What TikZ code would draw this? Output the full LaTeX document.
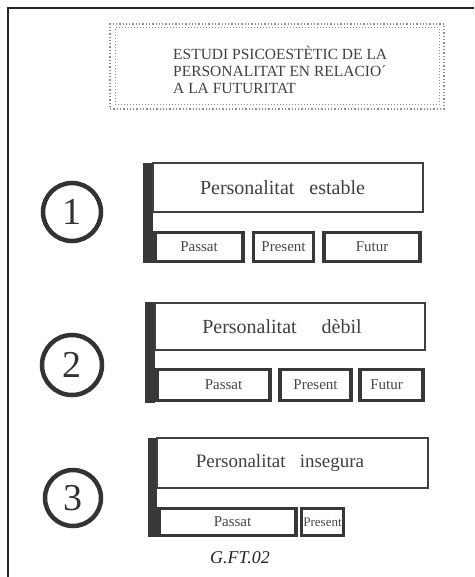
\documentclass[tikz,border=0pt]{standalone}
\usepackage{fontspec}
\setmainfont{Liberation Serif}
\begin{document}
\begin{tikzpicture}[x=1pt,y=-1pt,
  frame/.style={line width=2pt, draw=black!85},
  titlebox/.style={rectangle, draw=black!45, inner sep=0pt, dotted, line width=1.3pt},
  bigbox/.style={rectangle, draw=black!75, line width=1.6pt, inner sep=0pt, font=\fontsize{20}{22}\selectfont, text=black!75},
  smallbox/.style={rectangle, draw=black!78, line width=3.6pt, inner sep=0pt, font=\fontsize{15}{17}\selectfont, text=black!72},
  bar/.style={rectangle, fill=black!78, draw=none, inner sep=0pt},
  numcirc/.style={circle, draw=black!80, line width=4.5pt, inner sep=0pt, font=\fontsize{38}{40}\selectfont, text=black!80}]
\useasboundingbox (0,0) rectangle (474,577);
\fill[white] (0,0) rectangle (474,577);
% outer frame
\coordinate (fTL) at (8,8);
\coordinate (fTR) at (474,8);
\coordinate (fBL) at (8,577);
\draw[frame] (fBL) -- (fTL) -- (fTR);
% title box
\node[titlebox, minimum width=334pt, minimum height=85pt] (t0) at (277,66.5) {};
\node[titlebox, line width=1pt, minimum width=324pt, minimum height=77pt] (t1) at (277,66.5) {};
\node[anchor=west, align=left, inner sep=0pt, font=\fontsize{15.5}{17}\selectfont, text=black!75] (tt) at (173,70)
  {ESTUDI PSICOESTÈTIC DE LA\\PERSONALITAT EN RELACIO´\\A LA FUTURITAT};
% panel 1
\node[numcirc, minimum size=58pt] (c1) at (72,212) {1};
\node[bar, minimum width=10pt, minimum height=100pt] (b1) at (148,213) {};
\node[bigbox, minimum width=270pt, minimum height=49pt] (p1) at (288,187.5) {Personalitat\hspace{0.5em} estable\hspace*{11pt}};
\node[smallbox, minimum width=88pt, minimum height=29pt] (p1a) at (199,247) {Passat};
\node[smallbox, minimum width=60pt, minimum height=29pt] (p1b) at (283.5,247) {Present};
\node[smallbox, minimum width=96pt, minimum height=29pt] (p1c) at (372,247) {Futur};
% panel 2
\node[numcirc, minimum size=60pt] (c2) at (72,365) {2};
\node[bar, minimum width=10pt, minimum height=101pt] (b2) at (150,352.5) {};
\node[bigbox, minimum width=270pt, minimum height=47pt] (p2) at (290,326.5) {Personalitat\hspace{1em} dèbil\hspace*{16pt}};
\node[smallbox, minimum width=113pt, minimum height=31pt] (p2a) at (213.5,385) {\hspace*{20pt}Passat};
\node[smallbox, minimum width=71pt, minimum height=31pt] (p2b) at (315.5,385) {Present};
\node[smallbox, minimum width=63pt, minimum height=31pt] (p2c) at (391.5,385) {Futur\hspace*{10pt}};
% panel 3
\node[numcirc, minimum size=56pt] (c3) at (73,498) {3};
\node[bar, minimum width=9pt, minimum height=99pt] (b3) at (152.5,487.5) {};
\node[bigbox, font=\fontsize{19}{21}\selectfont, minimum width=271pt, minimum height=50pt] (p3) at (292.5,463) {Personalitat\hspace{0.5em} insegura\hspace*{25pt}};
\node[smallbox, minimum width=137pt, minimum height=27pt] (p3a) at (227.5,522) {\hspace*{10pt}Passat};
\node[smallbox, font=\fontsize{13}{15}\selectfont, minimum width=42pt, minimum height=27pt] (p3b) at (322.5,522) {Present};
% caption
\node[font=\fontsize{18}{20}\selectfont\itshape, text=black!85] (cap) at (240,558) {G.FT.02};
\end{tikzpicture}
\end{document}
